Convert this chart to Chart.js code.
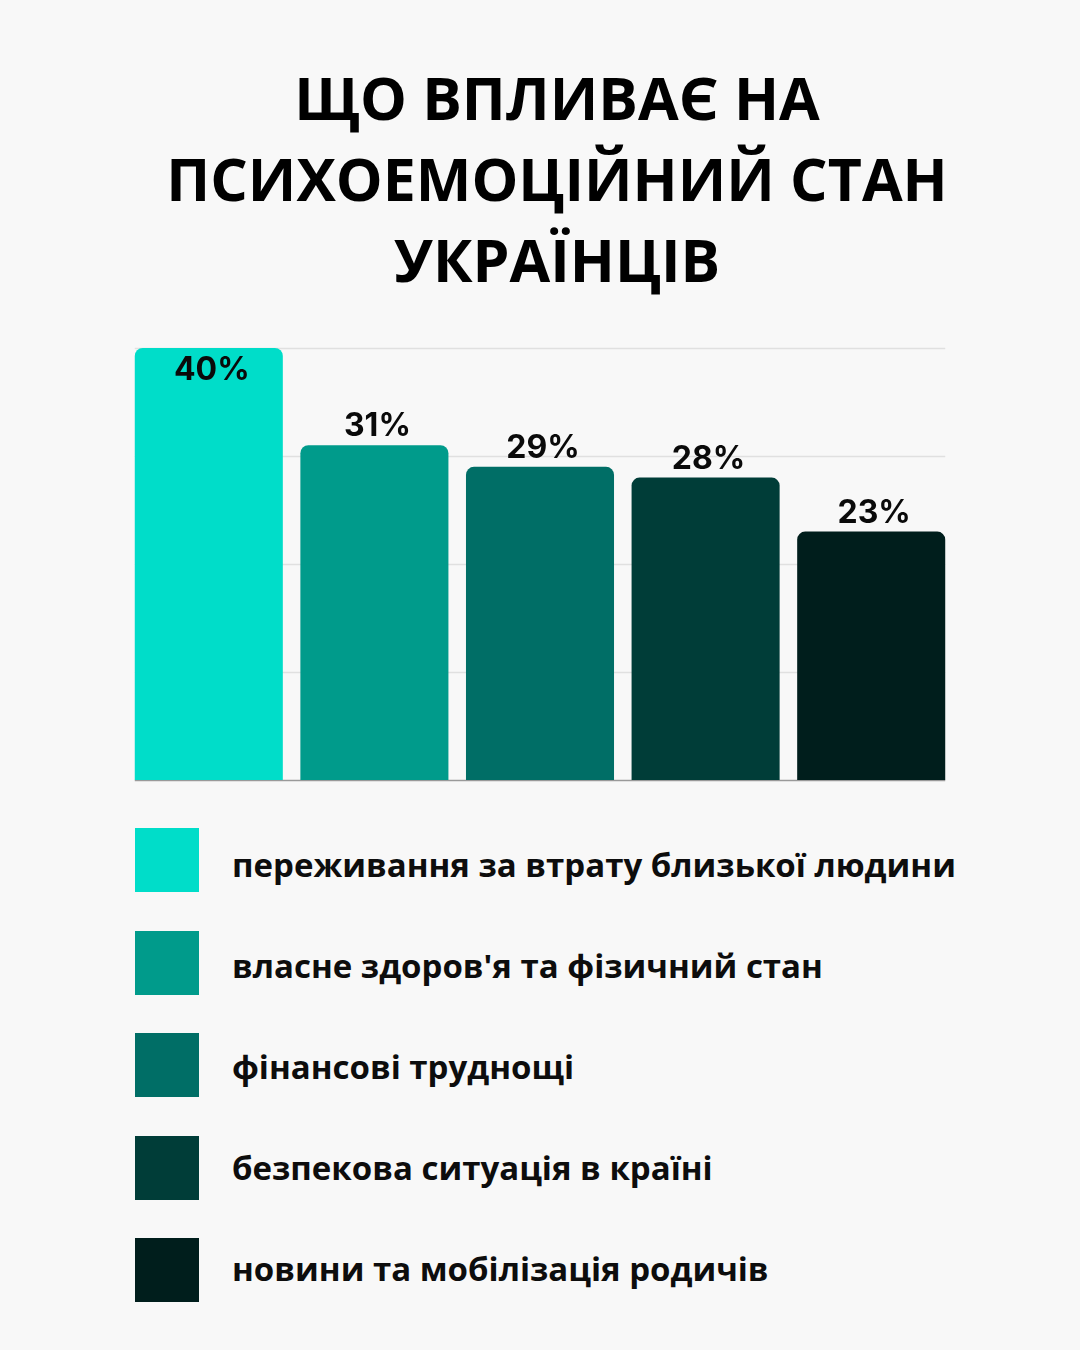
<!DOCTYPE html>
<html lang="uk">
<head>
<meta charset="utf-8">
<title>Що впливає на психоемоційний стан українців</title>
<script src="https://cdn.jsdelivr.net/npm/chart.js"></script>
<style>
  html, body {
    margin: 0;
    padding: 0;
    background: #f8f8f8;
  }
  #page {
    position: relative;
    width: 1080px;
    height: 1350px;
    overflow: hidden;
  }
  #title {
    position: absolute;
    top: 57px;
    left: 57px;
    width: 1000px;
    margin: 0;
    text-align: center;
    font-family: "Open Sans", sans-serif;
    font-weight: 700;
    font-size: 59px;
    line-height: 81px;
    color: #000;
  }
  #chartWrap {
    position: absolute;
    left: 0;
    top: 300px;
    width: 1080px;
    height: 500px;
  }
  .legend-box {
    position: absolute;
    left: 135px;
    width: 64px;
    height: 64px;
  }
  .legend-text {
    position: absolute;
    left: 232px;
    white-space: nowrap;
    font-family: "Open Sans", sans-serif;
    font-weight: 700;
    font-size: 33px;
    line-height: 40px;
    color: #0d0d0d;
  }
</style>
</head>
<body>
<div id="page">
  <h1 id="title">ЩО ВПЛИВАЄ НА<br>ПСИХОЕМОЦІЙНИЙ СТАН<br>УКРАЇНЦІВ</h1>
  <div id="chartWrap"><canvas id="factorsChart" width="1080" height="500"></canvas></div>
  <div id="legend"></div>
</div>
<script>
// Data
const categories = [
  "переживання за втрату близької людини",
  "власне здоров'я та фізичний стан",
  "фінансові труднощі",
  "безпекова ситуація в країні",
  "новини та мобілізація родичів",
];
const values = [40, 31, 29, 28, 23];
const barColors = ["#00ddc9", "#009b8b", "#006e66", "#003d38", "#001e1c"];
const gridTicks = [0, 10, 20, 30, 40];

// grid lines only as wide as the bars
const gridPlugin = {
  id: "gridLines",
  beforeDatasetsDraw(chart) {
    const ctx = chart.ctx;
    const bars = chart.getDatasetMeta(0).data;
    const first = bars[0];
    const last = bars[bars.length - 1];
    const x0 = first.x - first.width / 2;
    const x1 = last.x + last.width / 2;
    const yScale = chart.scales.y;
    ctx.save();
    gridTicks.forEach((v) => {
      const y = Math.round(yScale.getPixelForValue(v)) + 0.5;
      ctx.strokeStyle = v === 0 ? "#9a9a9a" : "#e0e0e0";
      ctx.lineWidth = 1.5;
      ctx.beginPath();
      ctx.moveTo(x0, y);
      ctx.lineTo(x1, y);
      ctx.stroke();
    });
    ctx.restore();
  },
};

// value labels, moved inside the bar when no room above
const labelPlugin = {
  id: "valueLabels",
  afterDatasetsDraw(chart) {
    const ctx = chart.ctx;
    const bars = chart.getDatasetMeta(0).data;
    ctx.save();
    ctx.font = "700 32px Inter, 'Liberation Sans', sans-serif";
    ctx.fillStyle = "#0a0a0a";
    ctx.textAlign = "center";
    ctx.textBaseline = "alphabetic";
    bars.forEach((bar, i) => {
      let y = bar.y - 9;
      if (y - 24 < chart.chartArea.top) y = bar.y + 32;
      ctx.fillText(values[i] + "%", bar.x + 3, y);
    });
    ctx.restore();
  },
};

const ctx = document.getElementById("factorsChart").getContext("2d");
new Chart(ctx, {
  type: "bar",
  data: {
    labels: categories,
    datasets: [
      {
        data: values,
        backgroundColor: barColors,
        borderRadius: 8,
        borderSkipped: "start",
        categoryPercentage: 1,
        barPercentage: 0.894,
      },
    ],
  },
  options: {
    responsive: false,
    animation: false,
    layout: {
      padding: { left: 126, right: 126, top: 48, bottom: 20 },
    },
    scales: {
      x: { display: false },
      y: { display: false, min: 0, max: 40 },
    },
    plugins: {
      legend: { display: false },
      tooltip: { enabled: false },
    },
  },
  plugins: [gridPlugin, labelPlugin],
});

// Legend
const legend = document.getElementById("legend");
categories.forEach((name, i) => {
  const box = document.createElement("div");
  box.className = "legend-box";
  box.style.top = 828 + i * 102.5 + "px";
  box.style.background = barColors[i];
  const text = document.createElement("div");
  text.className = "legend-text";
  text.style.top = 845 + i * 101 + "px";
  text.textContent = name;
  legend.appendChild(box);
  legend.appendChild(text);
});
</script>
</body>
</html>
